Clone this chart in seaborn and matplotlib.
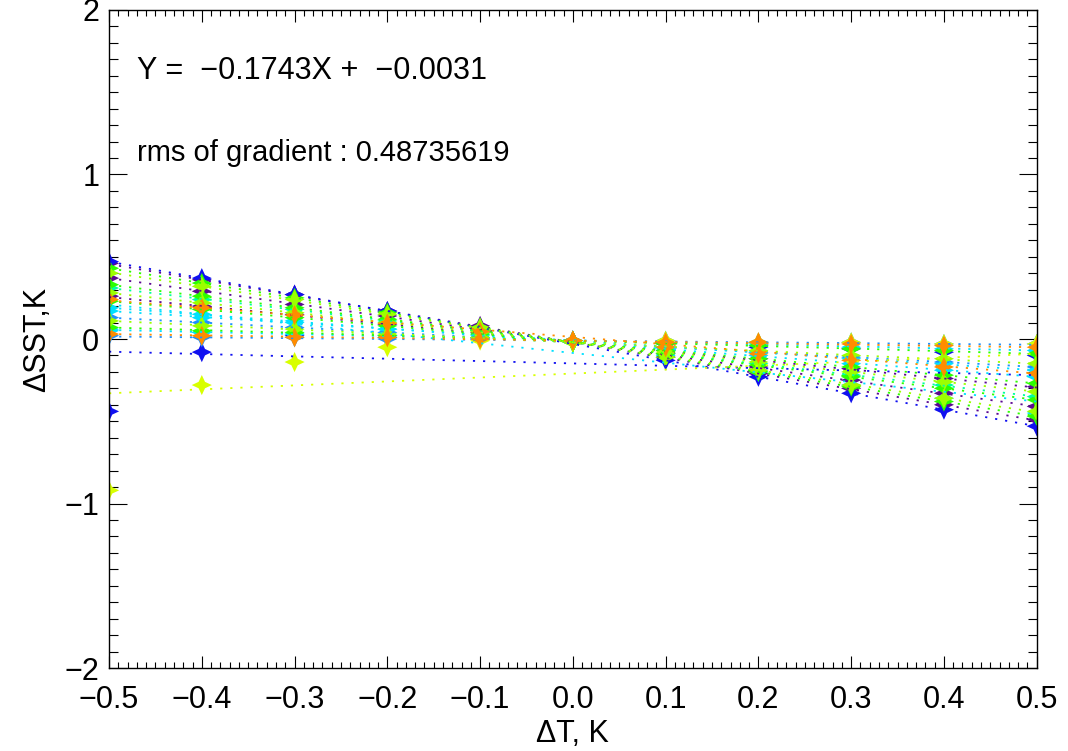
import numpy as np
import pandas as pd
import matplotlib
matplotlib.use("Agg")
import matplotlib.pyplot as plt
from matplotlib.path import Path
from matplotlib.ticker import MultipleLocator, FuncFormatter
import seaborn as sns

# temperature perturbation (x) shared by every series
x_vals = [-0.5, -0.4, -0.3, -0.2, -0.1, 0.0, 0.1, 0.2, 0.3, 0.4, 0.5]

# SST response of each grid point
y_p1 = [0.46, 0.36, 0.27, 0.17, 0.08, -0.01, -0.11, -0.21, -0.30, -0.40, -0.49]
y_p2 = [0.37, 0.29, 0.21, 0.14, 0.06, -0.01, -0.09, -0.17, -0.25, -0.33, -0.41]
y_p3 = [0.26, 0.20, 0.15, 0.09, 0.04, -0.01, -0.07, -0.12, -0.18, -0.24, -0.29]
y_b1 = [0.47, 0.37, 0.27, 0.17, 0.07, -0.02, -0.13, -0.23, -0.33, -0.43, -0.53]
y_b2 = [-0.44, -0.08, 0.02, 0.01, 0.00, -0.01, -0.03, -0.05, -0.06, -0.08, -0.10]
y_lb1 = [0.02, 0.01, 0.01, 0.00, 0.00, -0.01, -0.01, -0.02, -0.02, -0.03, -0.03]
y_lb2 = [0.13, 0.10, 0.07, 0.04, 0.01, -0.02, -0.05, -0.08, -0.11, -0.14, -0.17]
y_c1 = [0.19, 0.15, 0.11, 0.06, 0.02, -0.02, -0.06, -0.10, -0.15, -0.19, -0.23]
y_c2 = [0.17, 0.13, 0.10, 0.06, 0.03, -0.01, -0.05, -0.08, -0.12, -0.15, -0.19]
y_c3 = [0.06, 0.04, 0.03, 0.02, 0.00, -0.01, -0.02, -0.03, -0.05, -0.06, -0.07]
y_c4 = [0.05, 0.04, 0.03, 0.02, 0.01, -0.01, -0.10, -0.20, -0.28, -0.36, -0.45]
y_a1 = [0.31, 0.24, 0.18, 0.11, 0.05, -0.02, -0.09, -0.15, -0.22, -0.28, -0.35]
y_g1 = [0.43, 0.34, 0.25, 0.16, 0.07, -0.02, -0.11, -0.20, -0.29, -0.38, -0.47]
y_g2 = [0.33, 0.26, 0.19, 0.12, 0.05, -0.02, -0.09, -0.16, -0.23, -0.30, -0.37]
y_g3 = [0.23, 0.18, 0.13, 0.08, 0.03, -0.02, -0.07, -0.12, -0.17, -0.22, -0.27]
y_g4 = [0.07, 0.05, 0.04, 0.02, 0.01, -0.01, -0.03, -0.04, -0.06, -0.07, -0.09]
y_y1 = [0.40, 0.32, 0.24, 0.15, 0.07, -0.02, -0.11, -0.19, -0.28, -0.36, -0.44]
y_y2 = [0.28, 0.22, 0.16, 0.10, 0.04, -0.02, -0.08, -0.14, -0.20, -0.26, -0.32]
y_y3 = [0.11, 0.08, 0.06, 0.03, 0.01, -0.02, -0.05, -0.07, -0.10, -0.12, -0.15]
y_yo = [-0.92, -0.28, -0.14, -0.05, -0.01, -0.01, -0.01, -0.02, -0.02, -0.03, -0.03]
y_o1 = [0.24, 0.19, 0.145, 0.095, 0.045, -0.01, -0.05, -0.09, -0.13, -0.17, -0.21]
y_o2 = [0.03, 0.02, 0.01, 0.01, 0.00, -0.01, -0.02, -0.02, -0.03, -0.04, -0.05]

series_names = ["p1", "p2", "p3", "b1", "b2", "lb1", "lb2", "c1", "c2", "c3", "c4",
                "a1", "g1", "g2", "g3", "g4", "y1", "y2", "y3", "yo", "o1", "o2"]
series_values = [y_p1, y_p2, y_p3, y_b1, y_b2, y_lb1, y_lb2, y_c1, y_c2, y_c3, y_c4,
                 y_a1, y_g1, y_g2, y_g3, y_g4, y_y1, y_y2, y_y3, y_yo, y_o1, y_o2]
series_colors = ["#5b0a91", "#5b0a91", "#5b0a91", "#1010f0", "#1010f0",
                 "#1e90ff", "#1e90ff", "#00e0ff", "#00e0ff", "#00e0ff", "#00e0ff",
                 "#00ffa0", "#2cff00", "#2cff00", "#2cff00", "#2cff00",
                 "#9cff00", "#9cff00", "#9cff00", "#d8ff00", "#ff8c00", "#ff8c00"]

# fitted line of each series at x = -0.5 and x = 0.5
line_left = [0.455, 0.37, 0.255, 0.47, -0.077, 0.015, 0.13, 0.19, 0.17, 0.055, 0.21,
             0.31, 0.43, 0.33, 0.23, 0.07, 0.405, 0.28, 0.11, -0.33, 0.235, 0.03]
line_right = [-0.495, -0.41, -0.295, -0.53, -0.22, -0.035, -0.17, -0.23, -0.19, -0.07, -0.38,
              -0.35, -0.47, -0.37, -0.27, -0.09, -0.445, -0.32, -0.15, -0.09, -0.21, -0.05]

fit_text = "Y =  \u22120.1743X +  \u22120.0031"
rms_text = "rms of gradient : 0.48735619"

points = pd.DataFrame([
    {"series": n, "x": x, "y": y}
    for n, vals in zip(series_names, series_values)
    for x, y in zip(x_vals, vals)
])
lines = pd.DataFrame(
    [{"series": n, "x": x_vals[0], "y": l} for n, l in zip(series_names, line_left)] +
    [{"series": n, "x": x_vals[-1], "y": r} for n, r in zip(series_names, line_right)]
)
palette = dict(zip(series_names, series_colors))

sns.set_style("ticks")
plt.rcParams["font.family"] = ["Liberation Sans", "DejaVu Sans"]
plt.rcParams["font.size"] = 22
plt.rcParams["text.color"] = "black"
plt.rcParams["axes.labelcolor"] = "black"

fig = plt.figure(figsize=(10.68, 7.51), dpi=100)
ax = fig.add_axes([0.1021, 0.1105, 0.8686, 0.8762])

sns.lineplot(data=lines, x="x", y="y", hue="series", palette=palette,
             hue_order=series_names, estimator=None, legend=False,
             linewidth=1.3, ax=ax)
for ln in ax.lines:
    ln.set_linestyle((0, (1.2, 4.4)))

star = Path.unit_regular_star(4, innerCircle=0.45)
sns.scatterplot(data=points, x="x", y="y", hue="series", palette=palette,
                hue_order=series_names, marker=star, s=210, linewidth=0,
                legend=False, ax=ax)

ax.set_xlim(-0.5, 0.5)
ax.set_ylim(-2, 2)
ax.xaxis.set_major_locator(MultipleLocator(0.1))
ax.xaxis.set_minor_locator(MultipleLocator(0.01))
ax.yaxis.set_major_locator(MultipleLocator(1))
ax.yaxis.set_minor_locator(MultipleLocator(0.1))
ax.xaxis.set_major_formatter(FuncFormatter(
    lambda v, p: f"{round(v, 1) + 0.0:.1f}".replace("-", "\u2212")))
ax.yaxis.set_major_formatter(FuncFormatter(
    lambda v, p: f"{int(round(v))}".replace("-", "\u2212")))

ax.tick_params(which="both", direction="in", top=True, right=True, width=0.8,
               colors="black", labelcolor="black")
ax.tick_params(axis="x", which="major", length=8.6, pad=12, labelsize=22)
ax.tick_params(axis="x", which="minor", length=4.3)
ax.tick_params(axis="y", which="major", length=13, pad=7, labelsize=22)
ax.tick_params(axis="y", which="minor", length=6.5)
for sp in ax.spines.values():
    sp.set_linewidth(1.0)
    sp.set_color("black")

ax.set_xlabel("\u0394T, K", fontsize=22, labelpad=3)
ax.set_ylabel("\u0394SST,K", fontsize=22, labelpad=9)

ax.text(-0.47, 1.58, fit_text, fontsize=22, va="baseline", ha="left")
ax.text(-0.47, 1.085, rms_text, fontsize=21, va="baseline", ha="left")

fig.savefig("out.png", dpi=100)
